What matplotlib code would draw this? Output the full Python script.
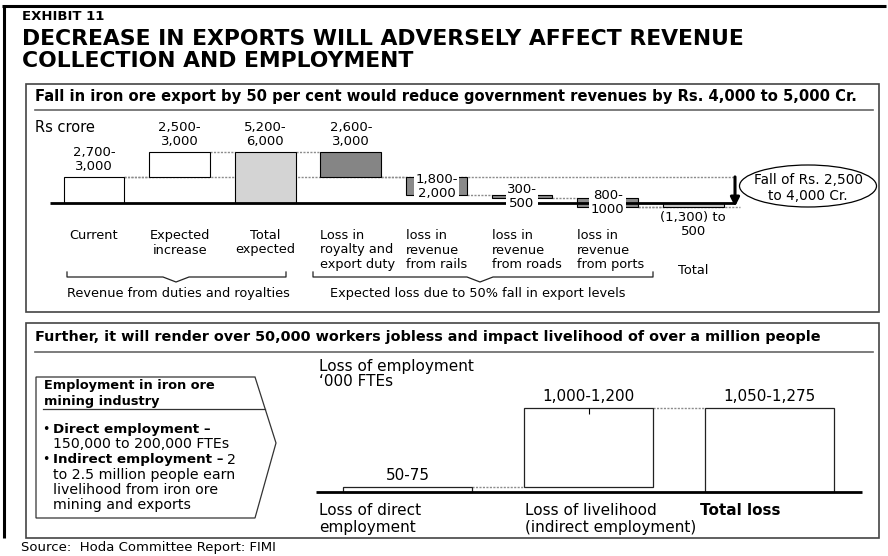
import numpy as np
import matplotlib.pyplot as plt
from matplotlib import patches, transforms

plt.rcParams['font.family'] = ['DejaVu Sans']

W, H = 888, 556

# revenue bridge, Rs crore (mid-points of the quoted ranges)
rev_cats = ["Current", "Expected\nincrease", "Total\nexpected",
            "Loss in\nroyalty and\nexport duty", "loss in\nrevenue\nfrom rails",
            "loss in\nrevenue\nfrom roads", "loss in\nrevenue\nfrom ports", "Total"]
rev_vals = [2850, 2750, 5600, -2800, -1900, -400, -900, -400]
rev_is_total = [True, False, True, False, False, False, False, True]
rev_labels = ["2,700-\n3,000", "2,500-\n3,000", "5,200-\n6,000", "2,600-\n3,000",
              "1,800-\n2,000", "300-\n500", "800-\n1000", "(1,300) to\n500"]
rev_colors = ["white", "white", "#d4d4d4", "#858585", "#8a8a8a", "#8a8a8a", "#8a8a8a", "#c8c8c8"]

# employment loss, '000 FTEs
emp_cats = ["Loss of direct\nemployment", "Loss of livelihood\n(indirect employment)", "Total loss"]
emp_vals = [62.5, 1100, 1162.5]
emp_is_total = [False, False, True]
emp_labels = ["50-75", "1,000-1,200", "1,050-1,275"]


def px_rect(x0, y0, x1, y1):
    """figure rect from pixel box (top-left origin)"""
    return [x0 / W, 1 - y1 / H, (x1 - x0) / W, (y1 - y0) / H]


def bridge(vals, is_total):
    bottoms, tops = [], []
    run = 0
    for v, t in zip(vals, is_total):
        if t:
            b, run = 0, v
        else:
            b, run = run, run + v
        bottoms.append(b)
        tops.append(run)
    return np.array(bottoms, float), np.array(tops, float)


fig = plt.figure(figsize=(W / 100, H / 100), dpi=100)
bg = fig.add_axes([0, 0, 1, 1])
bg.set_xlim(0, W)
bg.set_ylim(H, 0)
bg.axis('off')

# frame, title
bg.plot([2, 886], [6, 6], color='black', lw=2.2, solid_capstyle='butt')
bg.plot([3.5, 3.5], [6, 538], color='black', lw=2.2, solid_capstyle='butt')
bg.text(22, 17, "EXHIBIT 11", fontsize=9.5, weight='bold', va='center')
bg.text(22, 39, "DECREASE IN EXPORTS WILL ADVERSELY AFFECT REVENUE", fontsize=15.75, weight='bold', va='center')
bg.text(22, 61, "COLLECTION AND EMPLOYMENT", fontsize=15.75, weight='bold', va='center')

# panels
for (y0, y1) in [(84, 312), (323, 538)]:
    bg.add_patch(patches.Rectangle((26, y0), 853, y1 - y0, fill=False, ec='#444444', lw=1.2))
bg.text(35, 97, "Fall in iron ore export by 50 per cent would reduce government revenues by Rs. 4,000 to 5,000 Cr.",
        fontsize=10.65, weight='bold', va='center')
bg.plot([35, 873], [110, 110], color='#666666', lw=1.2)
bg.text(35, 337, "Further, it will render over 50,000 workers jobless and impact livelihood of over a million people",
        fontsize=10.38, weight='bold', va='center')
bg.plot([35, 873], [352, 352], color='#666666', lw=1.2)

bg.text(35, 127, "Rs crore", fontsize=10.5, va='center')

# ---- revenue waterfall
x0px, dx = 94, 85.6      # first bar centre, pitch (px)
ypx0, ks = 203, 109.2    # baseline px, Rs crore per px
wf = fig.add_axes(px_rect(40, 130, 760, 225))
wf.set_xlim((40 - x0px) / dx, (760 - x0px) / dx)
wf.set_ylim(-(225 - ypx0) * ks, (ypx0 - 130) * ks)
wf.axis('off')

n = len(rev_vals)
xs = np.arange(n)
bw = 0.71
b, t = bridge(rev_vals, rev_is_total)
wf.bar(xs, t - b, bw, bottom=b, color=rev_colors, edgecolor='black', linewidth=0.8, zorder=3)

dot = dict(color='#8c8c8c', lw=1, linestyles=(0, (1.5, 1)), zorder=2)
for i in range(n - 1):
    wf.hlines(t[i], xs[i] + bw / 2, xs[i + 1] - bw / 2, **dot)
xarrow = (735 - x0px) / dx
wf.hlines(t[0], xs[0] + bw / 2, xarrow, **dot)
wf.hlines(t[-1], xs[-2] + bw / 2, xarrow + 0.06, **dot)
wf.hlines(0, (50 - x0px) / dx, xarrow, color='black', lw=2, zorder=4)
wf.annotate('', xy=(xarrow, t[-1]), xytext=(xarrow, t[0]),
            arrowprops=dict(arrowstyle='-|>', lw=2.2, color='black', mutation_scale=13,
                            shrinkA=0, shrinkB=0), zorder=6)

for i in range(n):
    lo, hi = min(b[i], t[i]), max(b[i], t[i])
    if i < 4:
        wf.annotate(rev_labels[i], (xs[i], hi), xytext=(0, 3), textcoords='offset points',
                    ha='center', va='bottom', fontsize=9.5, linespacing=1.1)
    elif i < n - 1:
        wf.text(xs[i], (lo + hi) / 2, rev_labels[i], ha='center', va='center', fontsize=9.5,
                linespacing=1.1, zorder=5,
                bbox=dict(boxstyle='square,pad=0.1', fc='white', ec='none'))
    else:
        wf.annotate(rev_labels[i], (xs[i], lo), xytext=(0, -3), textcoords='offset points',
                    ha='center', va='top', fontsize=9.5, linespacing=1.1)

tr = transforms.blended_transform_factory(wf.transData, bg.transData)
for i, cat in enumerate(rev_cats):
    if i < 3:
        wf.text(xs[i], 229, cat, transform=tr, ha='center', va='top', fontsize=9.3, linespacing=1.15)
    elif i < n - 1:
        wf.text(xs[i] - bw / 2, 229, cat, transform=tr, ha='left', va='top', fontsize=9.3, linespacing=1.15)
    else:
        wf.text(xs[i], 264, cat, transform=tr, ha='center', va='top', fontsize=9.3)

# braces under the categories
for (xa, xm, xb) in [(67, 176, 286), (313, 480, 653)]:
    bg.plot([xa, xa, xm - 13, xm, xm + 13, xb, xb], [272, 277, 277, 282, 277, 277, 272],
            color='#222222', lw=0.9)
bg.text(178, 293, "Revenue from duties and royalties", fontsize=9.3, ha='center', va='center')
bg.text(478, 293, "Expected loss due to 50% fall in export levels", fontsize=9.3, ha='center', va='center')

bg.add_patch(patches.Ellipse((808, 186), 137, 42, fill=False, ec='black', lw=0.9))
bg.text(808, 188, "Fall of Rs. 2,500\nto 4,000 Cr.", fontsize=9.8, ha='center', va='center', linespacing=1.1)

# ---- employment chevron
bg.add_patch(patches.Polygon([(36, 377), (255, 377), (276, 443), (255, 518), (36, 518)],
                             closed=True, fill=False, ec='#333333', lw=0.9))
bg.plot([43, 265], [409, 409], color='#333333', lw=0.9)
bg.text(44, 386, "Employment in iron ore", fontsize=9.3, weight='bold', va='center')
bg.text(44, 401, "mining industry", fontsize=9.3, weight='bold', va='center')
bg.text(42, 429, "\u2022", fontsize=9, va='center')
bg.text(42, 460, "\u2022", fontsize=9, va='center')
bg.text(53, 429, "Direct employment \u2013", fontsize=9.7, weight='bold', va='center')
bg.text(53, 444, "150,000 to 200,000 FTEs", fontsize=10.2, va='center')
ind = bg.text(53, 460, "Indirect employment \u2013", fontsize=9.7, weight='bold', va='center')
rend = fig.canvas.get_renderer()
bg.text(ind.get_window_extent(rend).x1 + 3, 460, "2", fontsize=10.2, va='center')
for y, s in [(475, "to 2.5 million people earn"), (490, "livelihood from iron ore"),
             (505, "mining and exports")]:
    bg.text(53, y, s, fontsize=10.2, va='center')

bg.text(319, 367, "Loss of employment", fontsize=11, va='center')
bg.text(319, 382, "\u2018000 FTEs", fontsize=11, va='center')

# ---- employment bars
ex0, edx = 407.5, 181
eypx0, eks = 491.7, 13.94
em = fig.add_axes(px_rect(300, 385, 870, 500))
em.set_xlim((300 - ex0) / edx, (870 - ex0) / edx)
em.set_ylim(-(500 - eypx0) * eks, (eypx0 - 385) * eks)
em.axis('off')

exs = np.arange(len(emp_vals))
ebw = 0.718
eb, et = bridge(emp_vals, emp_is_total)
em.bar(exs, et - eb, ebw, bottom=eb, color='white', edgecolor='#222222', linewidth=0.9, zorder=3)
for i in range(len(exs) - 1):
    em.hlines(et[i], exs[i] + ebw / 2, exs[i + 1] - ebw / 2, **dot)
em.vlines(exs[1], et[1] - 6 * eks, et[1], color='black', lw=0.8, zorder=4)
em.hlines(0, (316 - ex0) / edx, (862 - ex0) / edx, color='black', lw=2, zorder=4)
for i, lab in enumerate(emp_labels):
    em.annotate(lab, (exs[i], et[i]), xytext=(0, 3), textcoords='offset points',
                ha='center', va='bottom', fontsize=11)

for (xp, cat, wt) in zip([319, 525, 700], emp_cats, ['normal', 'normal', 'bold']):
    bg.text(xp, 503, cat, fontsize=11, weight=wt, va='top', linespacing=1.15)

bg.text(21, 548, "Source:  Hoda Committee Report: FIMI", fontsize=9.5, va='center')

fig.savefig('out.png', dpi=100)
